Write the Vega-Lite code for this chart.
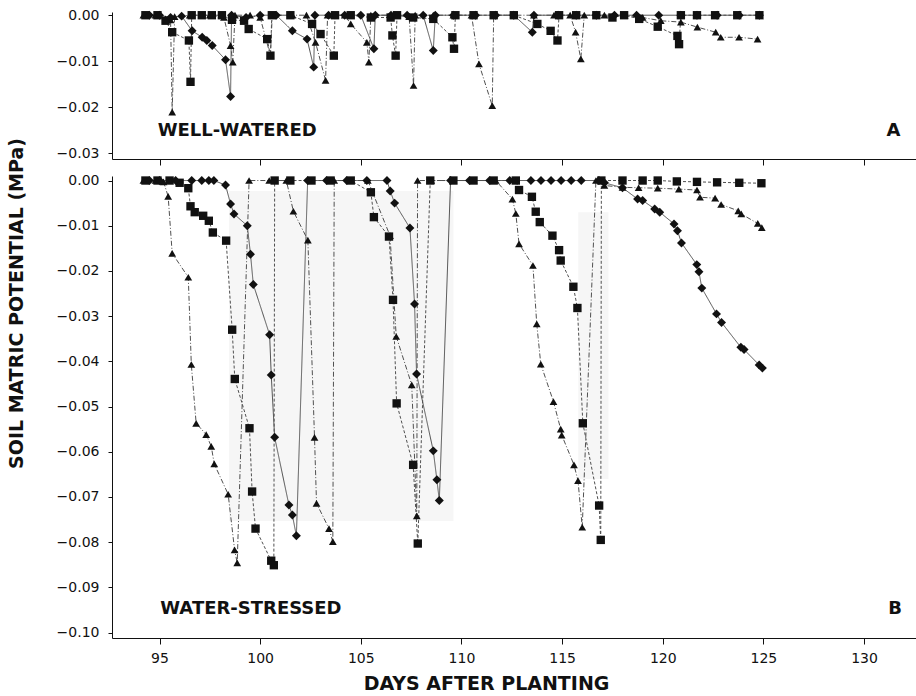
{
  "$schema": "https://vega.github.io/schema/vega-lite/v6.json",
  "background": "white",
  "padding": {"left": 6, "top": 8, "right": 0, "bottom": 0},
  "config": {
    "view": {"stroke": null},
    "font": "DejaVu Sans",
    "axis": {
      "grid": false,
      "domainColor": "#111",
      "domainWidth": 1,
      "tickColor": "#111",
      "tickWidth": 1,
      "labelColor": "#111",
      "labelFont": "DejaVu Sans",
      "labelFontSize": 14,
      "titleColor": "#111",
      "titleFont": "DejaVu Sans",
      "titleFontSize": 19,
      "titleFontWeight": "bold"
    }
  },
  "datasets": {
    "readings": [
      {"panel":"A","probe":"T1","day":94.2,"psi":0},
      {"panel":"A","probe":"T1","day":94.8,"psi":0},
      {"panel":"A","probe":"T1","day":95.3,"psi":-0.0008},
      {"panel":"A","probe":"T1","day":95.55,"psi":-0.001},
      {"panel":"A","probe":"T1","day":95.63,"psi":-0.0211},
      {"panel":"A","probe":"T1","day":95.75,"psi":-0.0003},
      {"panel":"A","probe":"T1","day":96.5,"psi":0},
      {"panel":"A","probe":"T1","day":97.5,"psi":0},
      {"panel":"A","probe":"T1","day":98.2,"psi":-0.0005},
      {"panel":"A","probe":"T1","day":98.53,"psi":-0.0066},
      {"panel":"A","probe":"T1","day":98.64,"psi":-0.0102},
      {"panel":"A","probe":"T1","day":98.75,"psi":0},
      {"panel":"A","probe":"T1","day":99.5,"psi":0},
      {"panel":"A","probe":"T1","day":100.0,"psi":-0.0005},
      {"panel":"A","probe":"T1","day":100.51,"psi":-0.0088},
      {"panel":"A","probe":"T1","day":100.6,"psi":0},
      {"panel":"A","probe":"T1","day":101.6,"psi":0},
      {"panel":"A","probe":"T1","day":102.3,"psi":0},
      {"panel":"A","probe":"T1","day":102.75,"psi":-0.0059},
      {"panel":"A","probe":"T1","day":103.25,"psi":-0.0142},
      {"panel":"A","probe":"T1","day":103.35,"psi":0},
      {"panel":"A","probe":"T1","day":104.2,"psi":0},
      {"panel":"A","probe":"T1","day":104.5,"psi":-0.0019},
      {"panel":"A","probe":"T1","day":105.3,"psi":-0.0059},
      {"panel":"A","probe":"T1","day":105.4,"psi":-0.0102},
      {"panel":"A","probe":"T1","day":105.5,"psi":0},
      {"panel":"A","probe":"T1","day":106.5,"psi":0},
      {"panel":"A","probe":"T1","day":107.4,"psi":-0.0003},
      {"panel":"A","probe":"T1","day":107.62,"psi":-0.0153},
      {"panel":"A","probe":"T1","day":107.7,"psi":0},
      {"panel":"A","probe":"T1","day":108.6,"psi":0},
      {"panel":"A","probe":"T1","day":109.6,"psi":0},
      {"panel":"A","probe":"T1","day":110.5,"psi":0},
      {"panel":"A","probe":"T1","day":110.87,"psi":-0.0106},
      {"panel":"A","probe":"T1","day":111.53,"psi":-0.0197},
      {"panel":"A","probe":"T1","day":111.6,"psi":0},
      {"panel":"A","probe":"T1","day":112.6,"psi":0},
      {"panel":"A","probe":"T1","day":113.6,"psi":0},
      {"panel":"A","probe":"T1","day":114.6,"psi":0},
      {"panel":"A","probe":"T1","day":115.4,"psi":0},
      {"panel":"A","probe":"T1","day":115.67,"psi":-0.0037},
      {"panel":"A","probe":"T1","day":115.93,"psi":-0.0095},
      {"panel":"A","probe":"T1","day":116.1,"psi":0},
      {"panel":"A","probe":"T1","day":117.1,"psi":0},
      {"panel":"A","probe":"T1","day":118.1,"psi":0},
      {"panel":"A","probe":"T1","day":119.0,"psi":-0.0005},
      {"panel":"A","probe":"T1","day":119.9,"psi":-0.0012},
      {"panel":"A","probe":"T1","day":120.9,"psi":-0.0015},
      {"panel":"A","probe":"T1","day":121.72,"psi":-0.0026},
      {"panel":"A","probe":"T1","day":122.63,"psi":-0.0037},
      {"panel":"A","probe":"T1","day":122.88,"psi":-0.0048},
      {"panel":"A","probe":"T1","day":123.79,"psi":-0.0048},
      {"panel":"A","probe":"T1","day":124.71,"psi":-0.0052},

      {"panel":"A","probe":"T2","day":94.3,"psi":0},
      {"panel":"A","probe":"T2","day":94.9,"psi":0},
      {"panel":"A","probe":"T2","day":95.3,"psi":-0.0012},
      {"panel":"A","probe":"T2","day":95.63,"psi":-0.0037},
      {"panel":"A","probe":"T2","day":96.46,"psi":-0.0055},
      {"panel":"A","probe":"T2","day":96.54,"psi":-0.0145},
      {"panel":"A","probe":"T2","day":96.6,"psi":0},
      {"panel":"A","probe":"T2","day":97.1,"psi":0},
      {"panel":"A","probe":"T2","day":97.6,"psi":0},
      {"panel":"A","probe":"T2","day":98.1,"psi":0},
      {"panel":"A","probe":"T2","day":98.6,"psi":-0.001},
      {"panel":"A","probe":"T2","day":99.2,"psi":-0.0012},
      {"panel":"A","probe":"T2","day":99.43,"psi":-0.003},
      {"panel":"A","probe":"T2","day":100.35,"psi":-0.0052},
      {"panel":"A","probe":"T2","day":100.51,"psi":-0.0088},
      {"panel":"A","probe":"T2","day":100.58,"psi":0},
      {"panel":"A","probe":"T2","day":101.5,"psi":0},
      {"panel":"A","probe":"T2","day":102.58,"psi":-0.0019},
      {"panel":"A","probe":"T2","day":103.0,"psi":-0.0041},
      {"panel":"A","probe":"T2","day":103.66,"psi":-0.0088},
      {"panel":"A","probe":"T2","day":103.72,"psi":0},
      {"panel":"A","probe":"T2","day":104.5,"psi":0},
      {"panel":"A","probe":"T2","day":105.5,"psi":-0.0005},
      {"panel":"A","probe":"T2","day":106.48,"psi":-0.0005},
      {"panel":"A","probe":"T2","day":106.57,"psi":-0.0044},
      {"panel":"A","probe":"T2","day":106.73,"psi":-0.0088},
      {"panel":"A","probe":"T2","day":106.8,"psi":0},
      {"panel":"A","probe":"T2","day":107.6,"psi":-0.0005},
      {"panel":"A","probe":"T2","day":108.6,"psi":-0.0008},
      {"panel":"A","probe":"T2","day":109.55,"psi":-0.0048},
      {"panel":"A","probe":"T2","day":109.63,"psi":-0.0073},
      {"panel":"A","probe":"T2","day":109.7,"psi":0},
      {"panel":"A","probe":"T2","day":110.6,"psi":0},
      {"panel":"A","probe":"T2","day":111.6,"psi":0},
      {"panel":"A","probe":"T2","day":112.6,"psi":0},
      {"panel":"A","probe":"T2","day":113.77,"psi":-0.0019},
      {"panel":"A","probe":"T2","day":114.43,"psi":-0.0034},
      {"panel":"A","probe":"T2","day":114.77,"psi":-0.0055},
      {"panel":"A","probe":"T2","day":114.85,"psi":0},
      {"panel":"A","probe":"T2","day":115.7,"psi":0},
      {"panel":"A","probe":"T2","day":116.7,"psi":0},
      {"panel":"A","probe":"T2","day":117.5,"psi":-0.0005},
      {"panel":"A","probe":"T2","day":118.08,"psi":0},
      {"panel":"A","probe":"T2","day":118.83,"psi":-0.0008},
      {"panel":"A","probe":"T2","day":119.75,"psi":-0.0025},
      {"panel":"A","probe":"T2","day":120.73,"psi":-0.0045},
      {"panel":"A","probe":"T2","day":120.81,"psi":-0.0063},
      {"panel":"A","probe":"T2","day":120.9,"psi":0},
      {"panel":"A","probe":"T2","day":121.7,"psi":0},
      {"panel":"A","probe":"T2","day":122.6,"psi":0},
      {"panel":"A","probe":"T2","day":123.7,"psi":0},
      {"panel":"A","probe":"T2","day":124.8,"psi":0},

      {"panel":"A","probe":"T3","day":94.5,"psi":0},
      {"panel":"A","probe":"T3","day":95.0,"psi":0},
      {"panel":"A","probe":"T3","day":95.55,"psi":-0.0005},
      {"panel":"A","probe":"T3","day":96.1,"psi":-0.0002},
      {"panel":"A","probe":"T3","day":96.62,"psi":-0.0034},
      {"panel":"A","probe":"T3","day":97.12,"psi":-0.0048},
      {"panel":"A","probe":"T3","day":97.35,"psi":-0.0055},
      {"panel":"A","probe":"T3","day":97.62,"psi":-0.0066},
      {"panel":"A","probe":"T3","day":98.28,"psi":-0.0097},
      {"panel":"A","probe":"T3","day":98.53,"psi":-0.0177},
      {"panel":"A","probe":"T3","day":98.58,"psi":0},
      {"panel":"A","probe":"T3","day":99.3,"psi":-0.0005},
      {"panel":"A","probe":"T3","day":100.0,"psi":0},
      {"panel":"A","probe":"T3","day":100.8,"psi":0},
      {"panel":"A","probe":"T3","day":101.6,"psi":-0.0034},
      {"panel":"A","probe":"T3","day":102.33,"psi":-0.0052},
      {"panel":"A","probe":"T3","day":102.66,"psi":-0.0113},
      {"panel":"A","probe":"T3","day":102.72,"psi":0},
      {"panel":"A","probe":"T3","day":103.4,"psi":0},
      {"panel":"A","probe":"T3","day":104.2,"psi":0},
      {"panel":"A","probe":"T3","day":105.0,"psi":0},
      {"panel":"A","probe":"T3","day":105.65,"psi":-0.0073},
      {"panel":"A","probe":"T3","day":105.72,"psi":0},
      {"panel":"A","probe":"T3","day":106.5,"psi":0},
      {"panel":"A","probe":"T3","day":107.3,"psi":0},
      {"panel":"A","probe":"T3","day":108.1,"psi":0},
      {"panel":"A","probe":"T3","day":108.6,"psi":-0.0077},
      {"panel":"A","probe":"T3","day":108.7,"psi":0},
      {"panel":"A","probe":"T3","day":109.6,"psi":0},
      {"panel":"A","probe":"T3","day":110.7,"psi":0},
      {"panel":"A","probe":"T3","day":111.7,"psi":0},
      {"panel":"A","probe":"T3","day":112.6,"psi":0},
      {"panel":"A","probe":"T3","day":113.52,"psi":-0.0037},
      {"panel":"A","probe":"T3","day":113.6,"psi":0},
      {"panel":"A","probe":"T3","day":114.8,"psi":0},
      {"panel":"A","probe":"T3","day":115.7,"psi":0},
      {"panel":"A","probe":"T3","day":116.7,"psi":0},
      {"panel":"A","probe":"T3","day":117.6,"psi":0},
      {"panel":"A","probe":"T3","day":118.7,"psi":0},
      {"panel":"A","probe":"T3","day":119.8,"psi":0},
      {"panel":"A","probe":"T3","day":120.9,"psi":0},
      {"panel":"A","probe":"T3","day":121.7,"psi":0},
      {"panel":"A","probe":"T3","day":122.7,"psi":0},
      {"panel":"A","probe":"T3","day":123.8,"psi":0},
      {"panel":"A","probe":"T3","day":124.8,"psi":0},

      {"panel":"B","probe":"T1","day":94.2,"psi":0},
      {"panel":"B","probe":"T1","day":94.8,"psi":0},
      {"panel":"B","probe":"T1","day":95.2,"psi":-0.0003},
      {"panel":"B","probe":"T1","day":95.43,"psi":-0.0035},
      {"panel":"B","probe":"T1","day":95.63,"psi":-0.0161},
      {"panel":"B","probe":"T1","day":96.43,"psi":-0.0214},
      {"panel":"B","probe":"T1","day":96.58,"psi":-0.0407},
      {"panel":"B","probe":"T1","day":96.82,"psi":-0.0537},
      {"panel":"B","probe":"T1","day":97.32,"psi":-0.0562},
      {"panel":"B","probe":"T1","day":97.57,"psi":-0.0588},
      {"panel":"B","probe":"T1","day":97.72,"psi":-0.0627},
      {"panel":"B","probe":"T1","day":98.41,"psi":-0.0694},
      {"panel":"B","probe":"T1","day":98.73,"psi":-0.0817},
      {"panel":"B","probe":"T1","day":98.86,"psi":-0.0846},
      {"panel":"B","probe":"T1","day":99.45,"psi":0},
      {"panel":"B","probe":"T1","day":100.45,"psi":0},
      {"panel":"B","probe":"T1","day":101.3,"psi":0},
      {"panel":"B","probe":"T1","day":101.65,"psi":-0.0068},
      {"panel":"B","probe":"T1","day":102.37,"psi":-0.0132},
      {"panel":"B","probe":"T1","day":102.7,"psi":-0.0568},
      {"panel":"B","probe":"T1","day":102.8,"psi":-0.0714},
      {"panel":"B","probe":"T1","day":103.42,"psi":-0.077},
      {"panel":"B","probe":"T1","day":103.61,"psi":-0.0799},
      {"panel":"B","probe":"T1","day":103.68,"psi":0},
      {"panel":"B","probe":"T1","day":104.5,"psi":0},
      {"panel":"B","probe":"T1","day":105.35,"psi":0},
      {"panel":"B","probe":"T1","day":106.45,"psi":-0.0122},
      {"panel":"B","probe":"T1","day":106.76,"psi":-0.0345},
      {"panel":"B","probe":"T1","day":107.53,"psi":-0.0452},
      {"panel":"B","probe":"T1","day":107.78,"psi":-0.0742},
      {"panel":"B","probe":"T1","day":107.82,"psi":0},
      {"panel":"B","probe":"T1","day":108.5,"psi":0},
      {"panel":"B","probe":"T1","day":109.6,"psi":0},
      {"panel":"B","probe":"T1","day":110.6,"psi":0},
      {"panel":"B","probe":"T1","day":111.7,"psi":0},
      {"panel":"B","probe":"T1","day":112.53,"psi":-0.0041},
      {"panel":"B","probe":"T1","day":112.7,"psi":-0.0073},
      {"panel":"B","probe":"T1","day":112.86,"psi":-0.014},
      {"panel":"B","probe":"T1","day":113.55,"psi":-0.0188},
      {"panel":"B","probe":"T1","day":113.74,"psi":-0.0317},
      {"panel":"B","probe":"T1","day":113.94,"psi":-0.0406},
      {"panel":"B","probe":"T1","day":114.57,"psi":-0.0489},
      {"panel":"B","probe":"T1","day":114.93,"psi":-0.055},
      {"panel":"B","probe":"T1","day":114.98,"psi":-0.0563},
      {"panel":"B","probe":"T1","day":115.59,"psi":-0.0629},
      {"panel":"B","probe":"T1","day":115.79,"psi":-0.0664},
      {"panel":"B","probe":"T1","day":116.0,"psi":-0.0767},
      {"panel":"B","probe":"T1","day":116.68,"psi":0},
      {"panel":"B","probe":"T1","day":117.1,"psi":-0.0011},
      {"panel":"B","probe":"T1","day":118.0,"psi":-0.0015},
      {"panel":"B","probe":"T1","day":118.8,"psi":-0.0016},
      {"panel":"B","probe":"T1","day":119.75,"psi":-0.0017},
      {"panel":"B","probe":"T1","day":120.8,"psi":-0.0019},
      {"panel":"B","probe":"T1","day":121.7,"psi":-0.0021},
      {"panel":"B","probe":"T1","day":121.85,"psi":-0.0037},
      {"panel":"B","probe":"T1","day":122.6,"psi":-0.0039},
      {"panel":"B","probe":"T1","day":122.9,"psi":-0.0053},
      {"panel":"B","probe":"T1","day":123.75,"psi":-0.0067},
      {"panel":"B","probe":"T1","day":123.9,"psi":-0.0074},
      {"panel":"B","probe":"T1","day":124.72,"psi":-0.0095},
      {"panel":"B","probe":"T1","day":124.92,"psi":-0.0104},

      {"panel":"B","probe":"T2","day":94.3,"psi":0},
      {"panel":"B","probe":"T2","day":94.9,"psi":0},
      {"panel":"B","probe":"T2","day":95.5,"psi":0},
      {"panel":"B","probe":"T2","day":96.0,"psi":-0.0005},
      {"panel":"B","probe":"T2","day":96.43,"psi":-0.0017},
      {"panel":"B","probe":"T2","day":96.54,"psi":-0.0057},
      {"panel":"B","probe":"T2","day":96.75,"psi":-0.007},
      {"panel":"B","probe":"T2","day":97.17,"psi":-0.0078},
      {"panel":"B","probe":"T2","day":97.45,"psi":-0.0089},
      {"panel":"B","probe":"T2","day":97.65,"psi":-0.0115},
      {"panel":"B","probe":"T2","day":98.31,"psi":-0.0133},
      {"panel":"B","probe":"T2","day":98.61,"psi":-0.033},
      {"panel":"B","probe":"T2","day":98.74,"psi":-0.0439},
      {"panel":"B","probe":"T2","day":99.47,"psi":-0.0548},
      {"panel":"B","probe":"T2","day":99.6,"psi":-0.0688},
      {"panel":"B","probe":"T2","day":99.77,"psi":-0.077},
      {"panel":"B","probe":"T2","day":100.55,"psi":-0.0841},
      {"panel":"B","probe":"T2","day":100.68,"psi":-0.0851},
      {"panel":"B","probe":"T2","day":100.72,"psi":0},
      {"panel":"B","probe":"T2","day":101.5,"psi":0},
      {"panel":"B","probe":"T2","day":102.55,"psi":0},
      {"panel":"B","probe":"T2","day":103.5,"psi":0},
      {"panel":"B","probe":"T2","day":104.5,"psi":0},
      {"panel":"B","probe":"T2","day":105.5,"psi":-0.0026},
      {"panel":"B","probe":"T2","day":105.65,"psi":-0.0081},
      {"panel":"B","probe":"T2","day":106.4,"psi":-0.0124},
      {"panel":"B","probe":"T2","day":106.6,"psi":-0.0264},
      {"panel":"B","probe":"T2","day":106.78,"psi":-0.0493},
      {"panel":"B","probe":"T2","day":107.6,"psi":-0.0629},
      {"panel":"B","probe":"T2","day":107.83,"psi":-0.0803},
      {"panel":"B","probe":"T2","day":108.45,"psi":0},
      {"panel":"B","probe":"T2","day":109.6,"psi":0},
      {"panel":"B","probe":"T2","day":110.6,"psi":0},
      {"panel":"B","probe":"T2","day":111.6,"psi":0},
      {"panel":"B","probe":"T2","day":112.7,"psi":0},
      {"panel":"B","probe":"T2","day":112.86,"psi":-0.0021},
      {"panel":"B","probe":"T2","day":113.5,"psi":-0.0036},
      {"panel":"B","probe":"T2","day":113.69,"psi":-0.0069},
      {"panel":"B","probe":"T2","day":113.89,"psi":-0.0092},
      {"panel":"B","probe":"T2","day":114.52,"psi":-0.0122},
      {"panel":"B","probe":"T2","day":114.85,"psi":-0.0154},
      {"panel":"B","probe":"T2","day":114.93,"psi":-0.0177},
      {"panel":"B","probe":"T2","day":115.56,"psi":-0.0235},
      {"panel":"B","probe":"T2","day":115.76,"psi":-0.0282},
      {"panel":"B","probe":"T2","day":116.03,"psi":-0.0537},
      {"panel":"B","probe":"T2","day":116.84,"psi":-0.0719},
      {"panel":"B","probe":"T2","day":116.92,"psi":-0.0795},
      {"panel":"B","probe":"T2","day":116.95,"psi":0},
      {"panel":"B","probe":"T2","day":118.0,"psi":0},
      {"panel":"B","probe":"T2","day":119.0,"psi":0},
      {"panel":"B","probe":"T2","day":119.75,"psi":0},
      {"panel":"B","probe":"T2","day":120.7,"psi":-0.0002},
      {"panel":"B","probe":"T2","day":121.7,"psi":-0.0003},
      {"panel":"B","probe":"T2","day":122.7,"psi":-0.0004},
      {"panel":"B","probe":"T2","day":123.8,"psi":-0.0005},
      {"panel":"B","probe":"T2","day":124.9,"psi":-0.0006},

      {"panel":"B","probe":"T3","day":94.5,"psi":0},
      {"panel":"B","probe":"T3","day":95.0,"psi":0},
      {"panel":"B","probe":"T3","day":95.8,"psi":0},
      {"panel":"B","probe":"T3","day":96.6,"psi":0},
      {"panel":"B","probe":"T3","day":97.1,"psi":0},
      {"panel":"B","probe":"T3","day":97.45,"psi":0},
      {"panel":"B","probe":"T3","day":97.7,"psi":0},
      {"panel":"B","probe":"T3","day":98.28,"psi":-0.001},
      {"panel":"B","probe":"T3","day":98.53,"psi":-0.0052},
      {"panel":"B","probe":"T3","day":98.7,"psi":-0.0074},
      {"panel":"B","probe":"T3","day":99.36,"psi":-0.01},
      {"panel":"B","probe":"T3","day":99.52,"psi":-0.0163},
      {"panel":"B","probe":"T3","day":99.66,"psi":-0.023},
      {"panel":"B","probe":"T3","day":100.47,"psi":-0.0341},
      {"panel":"B","probe":"T3","day":100.55,"psi":-0.043},
      {"panel":"B","probe":"T3","day":100.72,"psi":-0.0568},
      {"panel":"B","probe":"T3","day":101.43,"psi":-0.0718},
      {"panel":"B","probe":"T3","day":101.6,"psi":-0.074},
      {"panel":"B","probe":"T3","day":101.8,"psi":-0.0786},
      {"panel":"B","probe":"T3","day":102.36,"psi":0},
      {"panel":"B","probe":"T3","day":103.3,"psi":0},
      {"panel":"B","probe":"T3","day":104.3,"psi":0},
      {"panel":"B","probe":"T3","day":105.3,"psi":0},
      {"panel":"B","probe":"T3","day":106.3,"psi":0},
      {"panel":"B","probe":"T3","day":106.46,"psi":-0.0023},
      {"panel":"B","probe":"T3","day":106.68,"psi":-0.005},
      {"panel":"B","probe":"T3","day":107.44,"psi":-0.0105},
      {"panel":"B","probe":"T3","day":107.67,"psi":-0.0273},
      {"panel":"B","probe":"T3","day":107.77,"psi":-0.0428},
      {"panel":"B","probe":"T3","day":108.6,"psi":-0.0598},
      {"panel":"B","probe":"T3","day":108.78,"psi":-0.0662},
      {"panel":"B","probe":"T3","day":108.9,"psi":-0.0708},
      {"panel":"B","probe":"T3","day":109.46,"psi":0},
      {"panel":"B","probe":"T3","day":110.4,"psi":0},
      {"panel":"B","probe":"T3","day":111.4,"psi":0},
      {"panel":"B","probe":"T3","day":112.4,"psi":0},
      {"panel":"B","probe":"T3","day":113.45,"psi":0},
      {"panel":"B","probe":"T3","day":113.95,"psi":0},
      {"panel":"B","probe":"T3","day":114.45,"psi":0},
      {"panel":"B","probe":"T3","day":114.95,"psi":0},
      {"panel":"B","probe":"T3","day":115.45,"psi":0},
      {"panel":"B","probe":"T3","day":115.95,"psi":0},
      {"panel":"B","probe":"T3","day":116.83,"psi":0},
      {"panel":"B","probe":"T3","day":117.1,"psi":-0.0005},
      {"panel":"B","probe":"T3","day":118.0,"psi":-0.0016},
      {"panel":"B","probe":"T3","day":118.75,"psi":-0.0041},
      {"panel":"B","probe":"T3","day":119.0,"psi":-0.0044},
      {"panel":"B","probe":"T3","day":119.6,"psi":-0.0063},
      {"panel":"B","probe":"T3","day":119.85,"psi":-0.007},
      {"panel":"B","probe":"T3","day":120.56,"psi":-0.0096},
      {"panel":"B","probe":"T3","day":120.73,"psi":-0.0111},
      {"panel":"B","probe":"T3","day":120.93,"psi":-0.0138},
      {"panel":"B","probe":"T3","day":121.69,"psi":-0.0186},
      {"panel":"B","probe":"T3","day":121.8,"psi":-0.0202},
      {"panel":"B","probe":"T3","day":121.94,"psi":-0.0238},
      {"panel":"B","probe":"T3","day":122.67,"psi":-0.0295},
      {"panel":"B","probe":"T3","day":122.92,"psi":-0.0314},
      {"panel":"B","probe":"T3","day":123.88,"psi":-0.0369},
      {"panel":"B","probe":"T3","day":124.04,"psi":-0.0374},
      {"panel":"B","probe":"T3","day":124.79,"psi":-0.0408},
      {"panel":"B","probe":"T3","day":124.95,"psi":-0.0415}
    ],
    "shade": [
      {"x0":98.45,"x1":109.6,"y0":-0.0023,"y1":-0.0753},
      {"x0":115.8,"x1":117.3,"y0":-0.007,"y1":-0.066}
    ],
    "treatments": [
      {"panel":"A","day":94.91,"psi":-0.0251,"label":"WELL-WATERED"},
      {"panel":"B","day":95.04,"psi":-0.0948,"label":"WATER-STRESSED"}
    ],
    "letters": [
      {"panel":"A","day":131.46,"psi":-0.0251,"label":"A"},
      {"panel":"B","day":131.54,"psi":-0.0948,"label":"B"}
    ]
  },
  "bounds": "flush",
  "spacing": 17,
  "vconcat": [
    {
      "width": 805,
      "height": 147,
      "layer": [
        {
          "data": {"name": "readings"},
          "transform": [{"filter": "datum.panel === 'A'"}],
          "mark": {"type": "line", "color": "#505050", "strokeWidth": 1},
          "encoding": {
            "x": {"field": "day", "type": "quantitative",
                  "scale": {"domain": [92.64, 132.63], "nice": false, "zero": false},
                  "axis": {"values": [95,100,105,110,115,120,125,130], "labels": false, "title": null, "tickSize": 6}},
            "y": {"field": "psi", "type": "quantitative",
                  "scale": {"domain": [-0.0313, 0.0007], "nice": false, "zero": false},
                  "axis": {"values": [0,-0.01,-0.02,-0.03], "format": ".2f", "title": null, "tickSize": 4, "labelPadding": 9}},
            "strokeDash": {"field": "probe", "type": "nominal", "legend": null,
                           "scale": {"domain": ["T1","T2","T3"], "range": [[5,2,1,2],[3,2],[1,0]]}}
          }
        },
        {
          "data": {"name": "readings"},
          "transform": [{"filter": "datum.panel === 'A'"}],
          "mark": {"type": "point", "filled": true, "opacity": 1, "color": "#111"},
          "encoding": {
            "x": {"field": "day", "type": "quantitative"},
            "y": {"field": "psi", "type": "quantitative"},
            "shape": {"field": "probe", "type": "nominal", "legend": null,
                      "scale": {"domain": ["T1","T2","T3"], "range": ["triangle-up","square","diamond"]}},
            "size": {"field": "probe", "type": "nominal", "legend": null,
                     "scale": {"domain": ["T1","T2","T3"], "range": [60,80,50]}}
          }
        },
        {
          "data": {"name": "treatments"},
          "transform": [{"filter": "datum.panel === 'A'"}],
          "mark": {"type": "text", "font": "DejaVu Sans", "fontSize": 18, "fontWeight": "bold", "color": "#111", "align": "left", "baseline": "middle"},
          "encoding": {
            "x": {"field": "day", "type": "quantitative"},
            "y": {"field": "psi", "type": "quantitative"},
            "text": {"field": "label"}
          }
        },
        {
          "data": {"name": "letters"},
          "transform": [{"filter": "datum.panel === 'A'"}],
          "mark": {"type": "text", "font": "DejaVu Sans", "fontSize": 18, "fontWeight": "bold", "color": "#111", "align": "center", "baseline": "middle"},
          "encoding": {
            "x": {"field": "day", "type": "quantitative"},
            "y": {"field": "psi", "type": "quantitative"},
            "text": {"field": "label"}
          }
        }
      ]
    },
    {
      "width": 805,
      "height": 462,
      "layer": [
        {
          "data": {"name": "shade"},
          "mark": {"type": "rect", "color": "#f6f6f6"},
          "encoding": {
            "x": {"field": "x0", "type": "quantitative"},
            "x2": {"field": "x1"},
            "y": {"field": "y0", "type": "quantitative"},
            "y2": {"field": "y1"}
          }
        },
        {
          "data": {"name": "readings"},
          "transform": [{"filter": "datum.panel === 'B'"}],
          "mark": {"type": "line", "color": "#505050", "strokeWidth": 1},
          "encoding": {
            "x": {"field": "day", "type": "quantitative",
                  "scale": {"domain": [92.64, 132.63], "nice": false, "zero": false},
                  "axis": {"values": [95,100,105,110,115,120,125,130], "format": "d", "tickSize": 6, "labelPadding": 7,
                           "title": "DAYS AFTER PLANTING", "titleX": 374, "titleY": 51, "titleBaseline": "alphabetic", "titleAnchor": "middle"}},
            "y": {"field": "psi", "type": "quantitative",
                  "scale": {"domain": [-0.1012, 0.001], "nice": false, "zero": false},
                  "axis": {"values": [0,-0.01,-0.02,-0.03,-0.04,-0.05,-0.06,-0.07,-0.08,-0.09,-0.1], "format": ".2f", "tickSize": 4, "labelPadding": 9,
                           "title": "SOIL MATRIC POTENTIAL (MPa)", "titleX": -96, "titleY": 127, "titleAngle": 270, "titleBaseline": "middle", "titleAlign": "center"}},
            "strokeDash": {"field": "probe", "type": "nominal", "legend": null,
                           "scale": {"domain": ["T1","T2","T3"], "range": [[5,2,1,2],[3,2],[1,0]]}}
          }
        },
        {
          "data": {"name": "readings"},
          "transform": [{"filter": "datum.panel === 'B'"}],
          "mark": {"type": "point", "filled": true, "opacity": 1, "color": "#111"},
          "encoding": {
            "x": {"field": "day", "type": "quantitative"},
            "y": {"field": "psi", "type": "quantitative"},
            "shape": {"field": "probe", "type": "nominal", "legend": null,
                      "scale": {"domain": ["T1","T2","T3"], "range": ["triangle-up","square","diamond"]}},
            "size": {"field": "probe", "type": "nominal", "legend": null,
                     "scale": {"domain": ["T1","T2","T3"], "range": [55,75,45]}}
          }
        },
        {
          "data": {"name": "treatments"},
          "transform": [{"filter": "datum.panel === 'B'"}],
          "mark": {"type": "text", "font": "DejaVu Sans", "fontSize": 18, "fontWeight": "bold", "color": "#111", "align": "left", "baseline": "middle"},
          "encoding": {
            "x": {"field": "day", "type": "quantitative"},
            "y": {"field": "psi", "type": "quantitative"},
            "text": {"field": "label"}
          }
        },
        {
          "data": {"name": "letters"},
          "transform": [{"filter": "datum.panel === 'B'"}],
          "mark": {"type": "text", "font": "DejaVu Sans", "fontSize": 18, "fontWeight": "bold", "color": "#111", "align": "center", "baseline": "middle"},
          "encoding": {
            "x": {"field": "day", "type": "quantitative"},
            "y": {"field": "psi", "type": "quantitative"},
            "text": {"field": "label"}
          }
        }
      ]
    }
  ]
}
